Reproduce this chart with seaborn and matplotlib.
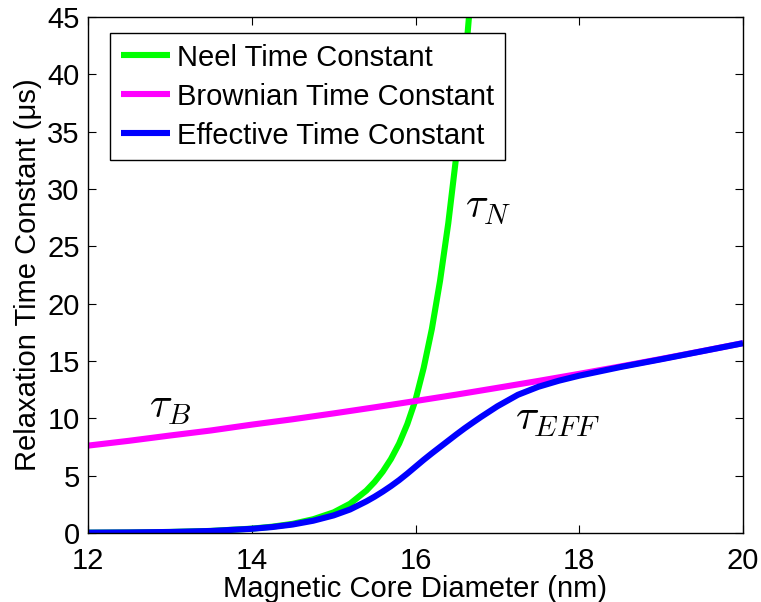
import matplotlib
matplotlib.use("Agg")
import matplotlib.pyplot as plt
import seaborn as sns
import pandas as pd

# ---- data ----
neel_x = [12.0, 12.5, 13.0, 13.5, 14.0, 14.25, 14.5, 14.75, 15.0, 15.2, 15.4, 15.5,
          15.6, 15.7, 15.8, 15.9, 16.0, 16.1, 16.2, 16.3, 16.4, 16.5, 16.6, 16.7]
neel_y = [0.03, 0.05, 0.09, 0.18, 0.38, 0.55, 0.80, 1.2, 1.8, 2.55, 3.7, 4.45,
          5.35, 6.45, 7.8, 9.5, 11.6, 14.4, 17.8, 22.0, 27.0, 33.0, 40.5, 49.0]

brown_x = [12.0, 12.5, 13.0, 13.5, 14.0, 14.5, 15.0, 15.5, 16.0, 16.5, 17.0,
           17.5, 18.0, 18.5, 19.0, 19.5, 20.0]
brown_y = [7.62, 8.04, 8.50, 8.94, 9.45, 9.92, 10.43, 10.96, 11.51, 12.07, 12.66,
           13.26, 13.88, 14.52, 15.18, 15.86, 16.56]

eff_x = [12.0, 12.5, 13.0, 13.5, 14.0, 14.25, 14.5, 14.75, 15.0, 15.2, 15.4, 15.5,
         15.6, 15.7, 15.8, 15.9, 16.0, 16.1, 16.2, 16.3, 16.4, 16.5, 16.6, 16.7,
         16.8, 17.0, 17.25, 17.5, 17.75, 18.0, 18.5, 19.0, 19.5, 20.0]
eff_y = [0.03, 0.05, 0.089, 0.176, 0.365, 0.52, 0.74, 1.07, 1.535, 2.05, 2.76, 3.165,
         3.61, 4.09, 4.61, 5.18, 5.78, 6.38, 6.95, 7.50, 8.05, 8.60, 9.13, 9.63,
         10.12, 11.05, 12.05, 12.75, 13.28, 13.72, 14.47, 15.15, 15.85, 16.55]

x_ticks = [12, 14, 16, 18, 20]
y_ticks = [0, 5, 10, 15, 20, 25, 30, 35, 40, 45]
labels = ["Neel Time Constant", "Brownian Time Constant", "Effective Time Constant"]
colors = ["#00ff00", "#ff00ff", "#0000ff"]

sns.set_theme(style="white")
plt.rcParams["font.family"] = ["Liberation Sans", "DejaVu Sans"]
plt.rcParams["mathtext.fontset"] = "cm"
for k in ["text.color", "axes.labelcolor", "xtick.color", "ytick.color"]:
    plt.rcParams[k] = "black"

fig = plt.figure(figsize=(7.61, 6.02), dpi=100)
ax = fig.add_axes([88 / 761, 69 / 602, 655 / 761, 516 / 602])

series = [(neel_x, neel_y), (brown_x, brown_y), (eff_x, eff_y)]
for (xs, ys), lab, col in zip(series, labels, colors):
    df = pd.DataFrame({"x": xs, "y": ys})
    sns.lineplot(data=df, x="x", y="y", ax=ax, color=col, linewidth=4.4,
                 label=lab, solid_capstyle="butt")

ax.set_xlim(12, 20)
ax.set_ylim(0, 45)
ax.set_xticks(x_ticks)
ax.set_yticks(y_ticks)
ax.tick_params(direction="in", length=6, width=0.8, color="black",
               labelsize=21, top=True, right=True, bottom=True, left=True)
ax.tick_params(axis="x", pad=10)
ax.tick_params(axis="y", pad=6)
for s in ax.spines.values():
    s.set_visible(True)
    s.set_color("black")
    s.set_linewidth(1.0)

ax.set_xlabel("Magnetic Core Diameter (nm)", fontsize=21, labelpad=0)
ax.set_ylabel("Relaxation Time Constant (μs)", fontsize=21, labelpad=4)

leg = ax.legend(loc="upper left", bbox_to_anchor=(22 / 655, 1 - 16 / 516),
                borderaxespad=0, fontsize=21, frameon=True, fancybox=False,
                edgecolor="black", framealpha=1, handlelength=1.7,
                labelspacing=0.38, borderpad=0.36, handletextpad=0.25)
leg.get_frame().set_linewidth(1.0)

ax.text(12.75, 10.0, r"$\tau_B$", fontsize=30)
ax.text(16.6, 27.5, r"$\tau_N$", fontsize=30)
ax.text(17.22, 9.0, r"$\tau_{EFF}$", fontsize=31)

fig.savefig("out.png", dpi=100)
